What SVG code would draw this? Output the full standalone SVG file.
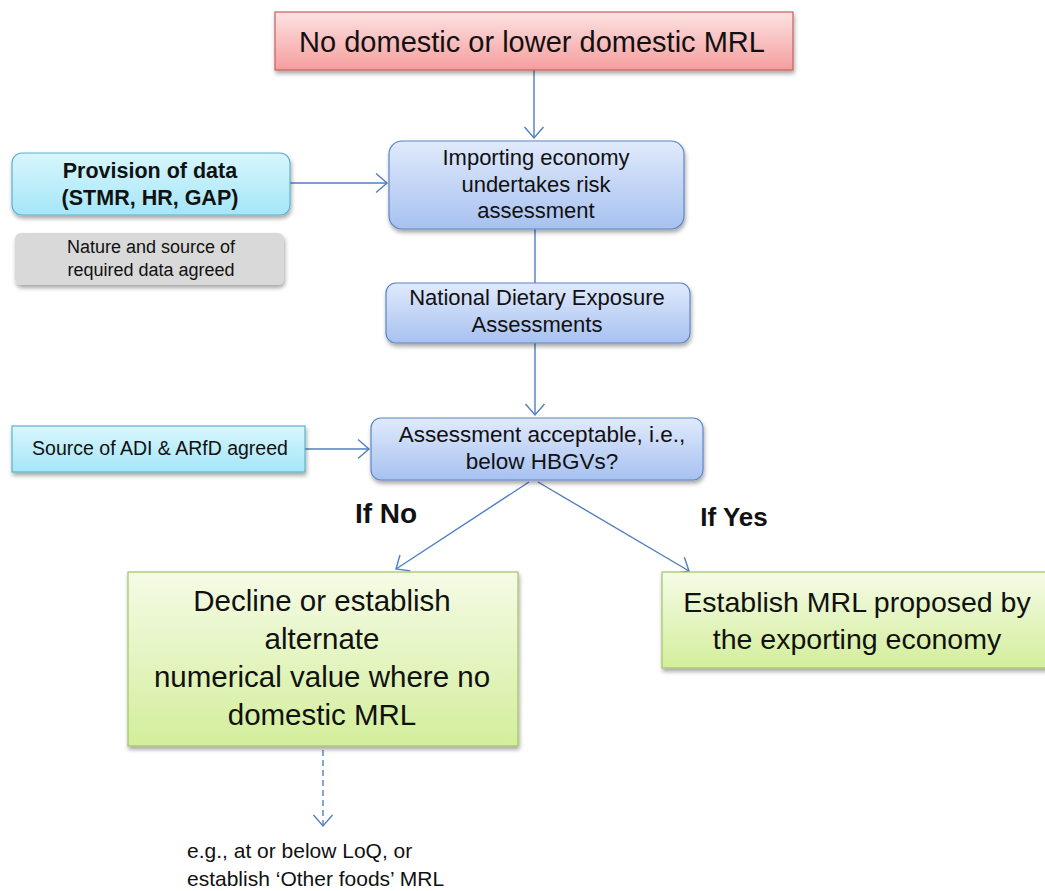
<svg xmlns="http://www.w3.org/2000/svg" width="1045" height="891" viewBox="0 0 1045 891">
<style>
text{font-family:"Liberation Sans",Arial,sans-serif;fill:#111;text-anchor:middle}
.big{font-size:29px}
.nar{font-size:22px}
.bold{font-weight:bold}
.conn{stroke:#4f7fc0;stroke-width:1.4;fill:none}
</style>
<defs>
<linearGradient id="gRed" x1="0" y1="0" x2="0" y2="1"><stop offset="0" stop-color="#fde2e2"/><stop offset="1" stop-color="#f59e9e"/></linearGradient>
<linearGradient id="gBlue" x1="0" y1="0" x2="0" y2="1"><stop offset="0" stop-color="#e0eafc"/><stop offset="1" stop-color="#a7c1f0"/></linearGradient>
<linearGradient id="gCyan" x1="0" y1="0" x2="0" y2="1"><stop offset="0" stop-color="#d8f6fd"/><stop offset="1" stop-color="#a4e6f8"/></linearGradient>
<linearGradient id="gGreen" x1="0" y1="0" x2="0" y2="1"><stop offset="0" stop-color="#f5fbe6"/><stop offset="1" stop-color="#d3ee9b"/></linearGradient>
<filter id="sh" x="-10%" y="-10%" width="120%" height="130%"><feDropShadow dx="1" dy="3" stdDeviation="2" flood-color="#000" flood-opacity="0.35"/></filter>
<marker id="arr" markerUnits="userSpaceOnUse" markerWidth="14" markerHeight="22" viewBox="0 0 13 22" refX="12" refY="11" orient="auto"><path d="M1,1.5 L12,11 L1,20.5" fill="none" stroke="#4f7fc0" stroke-width="1.4"/></marker>
</defs>

<g id="connectors">
<line class="conn" x1="534" y1="70" x2="534" y2="138" marker-end="url(#arr)"/>
<line class="conn" x1="290" y1="183" x2="387" y2="183" marker-end="url(#arr)"/>
<line class="conn" x1="535" y1="229" x2="535" y2="283"/>
<line class="conn" x1="535" y1="343" x2="535" y2="415" marker-end="url(#arr)"/>
<line class="conn" x1="305" y1="449" x2="369" y2="449" marker-end="url(#arr)"/>
<line class="conn" x1="529" y1="482" x2="396" y2="569" marker-end="url(#arr)"/>
<line class="conn" x1="538" y1="482" x2="689" y2="571" marker-end="url(#arr)"/>
<line class="conn" x1="323" y1="750" x2="323" y2="826" stroke-dasharray="6,4" marker-end="url(#arr)"/>
</g>

<g id="n-top">
<rect x="275" y="12" width="518" height="58" fill="url(#gRed)" stroke="#c9605c" stroke-width="1.2" filter="url(#sh)"/>
<text class="big" x="532" y="52">No domestic or lower domestic MRL</text>
</g>

<g id="n-provision">
<rect x="12" y="153" width="278" height="62" rx="10" fill="url(#gCyan)" stroke="#5ab4cc" stroke-width="1.2" filter="url(#sh)"/>
<text class="bold" x="150" y="178" style="font-size:21.5px">Provision of data</text>
<text class="bold" x="150" y="205" style="font-size:21.5px">(STMR, HR, GAP)</text>
</g>

<g id="n-nature">
<rect x="15" y="233" width="269" height="52" rx="6" fill="#d9d9d9" filter="url(#sh)"/>
<text x="151" y="253" style="font-size:18px">Nature and source of</text>
<text x="151" y="276" style="font-size:18px">required data agreed</text>
</g>

<g id="n-import">
<rect x="389" y="141" width="295" height="88" rx="13" fill="url(#gBlue)" stroke="#5b86c5" stroke-width="1.2" filter="url(#sh)"/>
<text class="nar" x="536" y="165">Importing economy</text>
<text class="nar" x="536" y="192">undertakes  risk</text>
<text class="nar" x="536" y="218">assessment</text>
</g>

<g id="n-national">
<rect x="386" y="283" width="304" height="60" rx="10" fill="url(#gBlue)" stroke="#5b86c5" stroke-width="1.2" filter="url(#sh)"/>
<text class="nar" x="537" y="305">National Dietary Exposure</text>
<text class="nar" x="537" y="332">Assessments</text>
</g>

<g id="n-source">
<rect x="12" y="426" width="293" height="46" fill="url(#gCyan)" stroke="#5ab4cc" stroke-width="1.2" filter="url(#sh)"/>
<text x="160" y="455" style="font-size:19.5px">Source of ADI &amp; ARfD agreed</text>
</g>

<g id="n-assess">
<rect x="371" y="418" width="332" height="62" rx="10" fill="url(#gBlue)" stroke="#5b86c5" stroke-width="1.2" filter="url(#sh)"/>
<text x="542" y="442" style="font-size:22.5px">Assessment acceptable, i.e.,</text>
<text x="542" y="469" style="font-size:22.5px">below HBGVs?</text>
</g>

<g id="labels">
<text class="bold" x="386" y="523" style="font-size:28px">If No</text>
<text class="bold" x="734" y="526" style="font-size:26px">If Yes</text>
</g>

<g id="n-decline">
<rect x="128" y="572" width="390" height="174" fill="url(#gGreen)" stroke="#a3c463" stroke-width="1.2" filter="url(#sh)"/>
<text class="big" x="322" y="611" style="font-size:29.5px">Decline or establish</text>
<text class="big" x="322" y="649" style="font-size:29.5px">alternate</text>
<text class="big" x="322" y="687" style="font-size:29.5px">numerical value where no</text>
<text class="big" x="322" y="725" style="font-size:29.5px">domestic MRL</text>
</g>

<g id="n-establish">
<rect x="662" y="572" width="390" height="96" fill="url(#gGreen)" stroke="#a3c463" stroke-width="1.2" filter="url(#sh)"/>
<text class="big" x="857" y="612" style="font-size:28.5px">Establish MRL proposed by</text>
<text class="big" x="857" y="649" style="font-size:28.5px">the exporting economy</text>
</g>

<g id="note">
<text x="187" y="858" style="font-size:21px;text-anchor:start">e.g.,  at or below LoQ, or</text>
<text x="187" y="886" style="font-size:21px;text-anchor:start">establish ‘Other foods’ MRL</text>
</g>
</svg>
